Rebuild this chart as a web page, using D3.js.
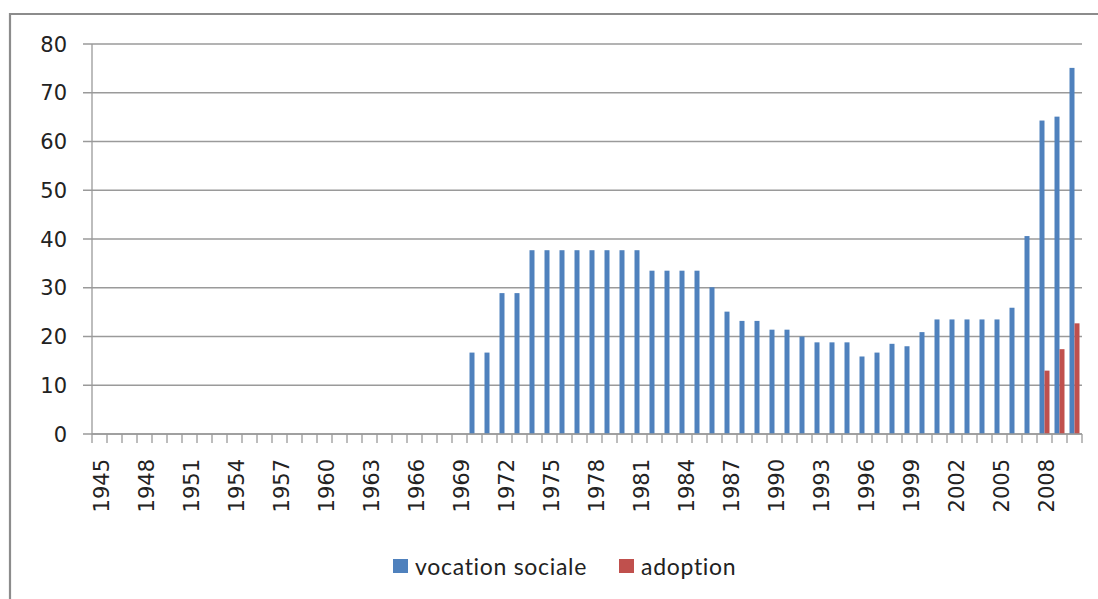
<!DOCTYPE html>
<html>
<head>
<meta charset="utf-8">
<script src="https://cdn.jsdelivr.net/npm/d3@7"></script>
<style>
  html, body { margin: 0; padding: 0; background: #fff; }
  svg { display: block; }
</style>
</head>
<body>
<svg id="chart" width="1098" height="599"></svg>
<script>
const years = [1945,1946,1947,1948,1949,1950,1951,1952,1953,1954,1955,1956,1957,1958,1959,1960,
  1961,1962,1963,1964,1965,1966,1967,1968,1969,1970,1971,1972,1973,1974,1975,1976,1977,1978,1979,
  1980,1981,1982,1983,1984,1985,1986,1987,1988,1989,1990,1991,1992,1993,1994,1995,1996,1997,1998,
  1999,2000,2001,2002,2003,2004,2005,2006,2007,2008,2009,2010];

const vocationSociale = [0,0,0,0,0,0,0,0,0,0,0,0,0,0,0,0,0,0,0,0,0,0,0,0,0,
  16.7,16.7,28.9,28.9,37.7,37.7,37.7,37.7,37.7,37.7,37.7,37.7,33.5,33.5,33.5,33.5,
  30.1,25.1,23.2,23.2,21.4,21.4,20.0,18.8,18.8,18.8,15.9,16.7,18.5,18.0,20.9,
  23.5,23.5,23.5,23.5,23.5,25.9,40.6,64.3,65.1,75.1];

const adoption = [0,0,0,0,0,0,0,0,0,0,0,0,0,0,0,0,0,0,0,0,0,0,0,0,0,
  0,0,0,0,0,0,0,0,0,0,0,0,0,0,0,0,
  0,0,0,0,0,0,0,0,0,0,0,0,0,0,0,
  0,0,0,0,0,0,0,13.0,17.4,22.7];

const seriesNames = ["vocation sociale", "adoption"];
const seriesColors = ["#4F81BD", "#C0504D"];
const yTicks = [0,10,20,30,40,50,60,70,80];
const labelEvery = 3;

const svg = d3.select("#chart");
const L = 92, R = 1082, T = 44, B = 434;

// outer border (partial frame)
svg.append("path")
  .attr("d", `M10,599 L10,14 L1098,14`)
  .attr("fill", "none").attr("stroke", "#8c8c8c").attr("stroke-width", 2.2);

const x = d3.scaleBand().domain(years).range([L, R]).paddingInner(0).paddingOuter(0);
const x1 = d3.scaleBand().domain([0,1]).range([2.5, x.bandwidth() - 2.5]).padding(0);
const y = d3.scaleLinear().domain([0, 80]).range([B, T]);

// gridlines
svg.append("g").selectAll("line").data(yTicks).join("line")
  .attr("x1", L - 9).attr("x2", R)
  .attr("y1", d => y(d)).attr("y2", d => y(d))
  .attr("stroke", "#9a9a9a").attr("stroke-width", 1.3);

// y axis line
svg.append("line").attr("x1", L).attr("x2", L).attr("y1", T).attr("y2", B)
  .attr("stroke", "#9a9a9a").attr("stroke-width", 1.3);

// y labels
svg.append("g").selectAll("text").data(yTicks).join("text")
  .attr("x", 67).attr("y", d => y(d)).attr("dy", "0.36em")
  .attr("text-anchor", "end")
  .attr("font-family", "DejaVu Sans").attr("font-size", 21).attr("fill", "#222")
  .text(d => d);

// bars
const data = [vocationSociale, adoption];
data.forEach((vals, si) => {
  svg.append("g").selectAll("rect").data(years).join("rect")
    .attr("x", (d, i) => x(d) + x1(si))
    .attr("width", x1.bandwidth())
    .attr("y", (d, i) => y(vals[i]))
    .attr("height", (d, i) => y(0) - y(vals[i]))
    .attr("fill", seriesColors[si]);
});

// x axis ticks
const bounds = years.map(d => x(d)).concat([R]);
svg.append("g").selectAll("line").data(bounds).join("line")
  .attr("x1", d => d).attr("x2", d => d)
  .attr("y1", B).attr("y2", B + 9)
  .attr("stroke", "#9a9a9a").attr("stroke-width", 1.3);

// x axis line
svg.append("line").attr("x1", L).attr("x2", R).attr("y1", B).attr("y2", B)
  .attr("stroke", "#9a9a9a").attr("stroke-width", 1.3);

// x labels
svg.append("g").selectAll("text").data(years.filter((d, i) => i % labelEvery === 0)).join("text")
  .attr("transform", d => `translate(${x(d) + x.bandwidth()/2 + 1.5},459) rotate(-90)`)
  .attr("dy", "0.36em")
  .attr("text-anchor", "end")
  .attr("font-family", "DejaVu Sans").attr("font-size", 21).attr("fill", "#222")
  .text(d => d);

// legend
const legendX = [393, 619];
const lg = svg.append("g");
seriesNames.forEach((name, i) => {
  lg.append("rect").attr("x", legendX[i]).attr("y", 559).attr("width", 15).attr("height", 14)
    .attr("fill", seriesColors[i]);
  lg.append("text").attr("x", legendX[i] + 22).attr("y", 575)
    .attr("font-family", "Lato").attr("font-size", 23).attr("letter-spacing", 0.7).attr("fill", "#222")
    .text(name);
});
</script>
</body>
</html>
